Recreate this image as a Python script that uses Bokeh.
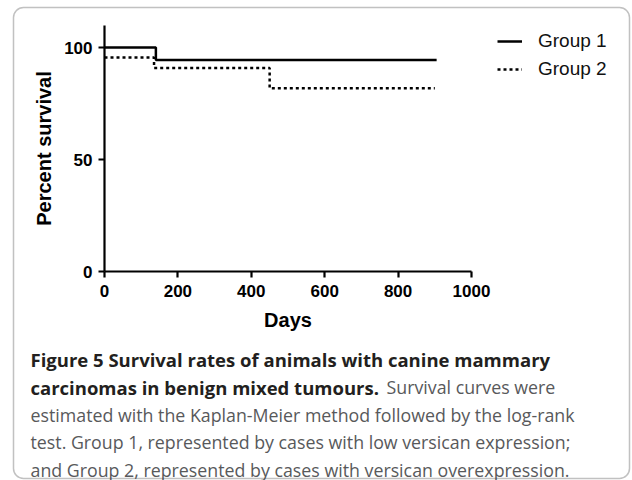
from bokeh.plotting import figure
from bokeh.models import (Range1d, FixedTicker, Legend, LegendItem, Label, BoxAnnotation)
from bokeh.embed import file_html
from bokeh.resources import INLINE

# ---- data ----
days_g1 = [0, 140, 905]
surv_g1 = [100, 94.4, 94.4]
days_g2 = [0, 135, 450, 900]
surv_g2 = [95.5, 90.9, 81.8, 81.8]
x_ticks = [0, 200, 400, 600, 800, 1000]
y_ticks = [0, 50, 100]
series_names = ["Group 1", "Group 2"]

caption_bold_1 = "Figure 5 Survival rates of animals with canine mammary"
caption_bold_2 = "carcinomas in benign mixed tumours."
caption_norm_2 = "Survival curves were"
caption_norm_3 = "estimated with the Kaplan-Meier method followed by the log-rank"
caption_norm_4 = "test. Group 1, represented by cases with low versican expression;"
caption_norm_5 = "and Group 2, represented by cases with versican overexpression."

W, H = 632, 480
# pixel placement of the chart area: x=0 at px 104, x=1000 at px 471;
# y=0 at px 271, y=100 at px 47
X0, X1 = 104.0, 471.0
Y0, Y100 = 271.0, 47.0
sx = (X1 - X0) / 1000.0
sy = (Y0 - Y100) / 100.0
x_start = -X0 / sx
x_end = x_start + W / sx
y_end = Y0 / sy
y_start = y_end - H / sy

p = figure(width=W, height=H, output_backend="svg", toolbar_location=None,
           x_range=Range1d(x_start, x_end), y_range=Range1d(y_start, y_end),
           min_border=0, min_border_left=0, min_border_right=0,
           min_border_top=0, min_border_bottom=0)
p.outline_line_color = None
p.grid.visible = False
p.background_fill_color = "white"
p.border_fill_color = "white"

tick_font = "Liberation Sans"
for ax in (p.xaxis[0], p.yaxis[0]):
    ax.fixed_location = 0
    ax.axis_line_width = 2.2
    ax.axis_line_color = "black"
    ax.major_tick_line_width = 2.2
    ax.major_tick_line_color = "black"
    ax.major_tick_out = 6
    ax.major_tick_in = 0
    ax.minor_tick_line_color = None
    ax.major_label_text_font = tick_font
    ax.major_label_text_font_style = "bold"
    ax.major_label_text_font_size = "17px"
    ax.major_label_text_color = "black"
    ax.axis_label_text_font = tick_font
    ax.axis_label_text_font_style = "bold"
    ax.axis_label_text_font_size = "20px"
    ax.axis_label_text_color = "black"

p.xaxis.bounds = (0, 1000)
p.yaxis.bounds = (0, 110)
p.xaxis.ticker = FixedTicker(ticks=x_ticks)
p.yaxis.ticker = FixedTicker(ticks=y_ticks)
p.xaxis.axis_label = "Days"
p.yaxis.axis_label = "Percent survival"
p.xaxis.major_label_standoff = 7
p.yaxis.major_label_standoff = 6
p.xaxis.axis_label_standoff = 9
p.yaxis.axis_label_standoff = 6

r1 = p.step(days_g1, surv_g1, mode="after", line_color="black", line_width=2.5)
r2 = p.step(days_g2, surv_g2, mode="after", line_color="black", line_width=2.5,
            line_dash="3 3")

legend = Legend(items=[LegendItem(label=series_names[0], renderers=[r1]),
                       LegendItem(label=series_names[1], renderers=[r2])],
                location=(497, H - 80), orientation="vertical",
                padding=0, margin=0, spacing=6,
                glyph_width=25, glyph_height=20, label_height=20,
                label_standoff=16,
                label_text_font="Liberation Sans", label_text_font_size="19px",
                label_text_color="#111111",
                border_line_color=None, background_fill_alpha=0)
p.add_layout(legend, "center")

# ---- caption ----
def cap(text, px, py, bold):
    p.add_layout(Label(x=px, y=H - py, x_units="screen", y_units="screen",
                       text=text, text_font="Open Sans",
                       text_font_size="18.5px" if bold else "17.8px",
                       text_font_style="bold" if bold else "normal",
                       text_color="#231f20" if bold else "#58595b",
                       text_baseline="alphabetic", text_align="left"))

cap(caption_bold_1, 30, 359.3, True)
cap(caption_bold_2, 30, 386.7, True)
cap(caption_norm_2, 386, 386.7, False)
cap(caption_norm_3, 30, 414, False)
cap(caption_norm_4, 30, 441.5, False)
cap(caption_norm_5, 30, 469, False)

# ---- rounded frame around the whole figure ----
box = BoxAnnotation(left=13, right=629, top=H - 7, bottom=H - 478,
                    left_units="screen", right_units="screen",
                    top_units="screen", bottom_units="screen",
                    fill_alpha=0, line_color="#333333", line_width=1.5,
                    border_radius=10)
p.add_layout(box)

open("out.html", "w").write(file_html(p, INLINE))
